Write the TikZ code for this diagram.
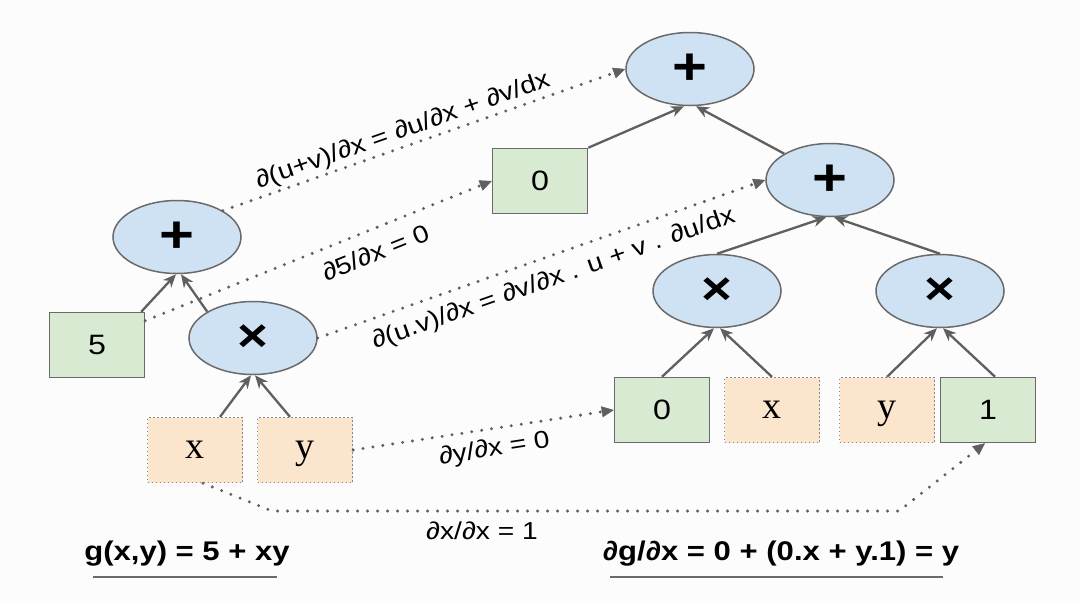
\documentclass[tikz,border=0pt]{standalone}
\usepackage{fontspec}
\setmainfont{Liberation Sans}[FakeStretch=1.15]
\newfontfamily\serifxy{Liberation Serif}
\usetikzlibrary{shapes.geometric,arrows.meta,calc}
\definecolor{opblue}{HTML}{CFE2F3}
\definecolor{cgreen}{HTML}{D9EAD3}
\definecolor{vorange}{HTML}{FCE5CD}
\definecolor{edgegray}{HTML}{6A6A6A}
\definecolor{arrgray}{HTML}{5F5F5F}
\definecolor{bgc}{HTML}{FCFCFC}
\begin{document}
\begin{tikzpicture}[x=1pt,y=-1pt,
 opnode/.style={ellipse, draw=edgegray, line width=1.5pt, fill=opblue, minimum width=128pt, minimum height=73pt, inner sep=0pt, font=\fontsize{46}{46}\selectfont\bfseries},
 plusop/.style={opnode, font=\fontsize{52}{52}\selectfont\bfseries},
 constbox/.style={rectangle, draw=edgegray, line width=1.5pt, fill=cgreen, minimum width=95pt, minimum height=65pt, inner sep=0pt, font=\fontsize{28}{28}\selectfont},
 varbox/.style={rectangle, draw=edgegray!80, line width=1.3pt, dash pattern=on 1.3pt off 2.7pt, fill=vorange, minimum width=95pt, minimum height=65pt, inner sep=0pt, text height=17pt, text depth=0pt, font=\fontsize{38}{38}\selectfont\serifxy},
 flow/.style={draw=arrgray, line width=2.3pt, -{Stealth[length=13pt,width=11pt,inset=4pt]}},
 deriv/.style={draw=arrgray, line width=3.3pt, line cap=round, dash pattern=on 0pt off 10pt, -{Triangle[length=12pt,width=11pt,line width=0.5pt]}},
 lbl/.style={font=\fontsize{24.5}{28}\selectfont, text=black},
 formula/.style={font=\fontsize{27}{30}\selectfont\bfseries, text=black},
 uline/.style={draw=edgegray, line width=1.5pt},
]
\useasboundingbox (0,0) rectangle (1080,603);
\fill[bgc] (0,0) rectangle (1080,603);

% right tree
\node[plusop] (tp) at (690,69) {+};
\node[plusop] (sp) at (830,180) {+};
\node[opnode] (bm1) at (717,291) {×};
\node[opnode] (bm2) at (940,291) {×};
\node[constbox] (b0) at (662,410) {0};
\node[varbox] (bx) at (772,410) {x};
\node[varbox] (by) at (887,410) {y};
\node[constbox] (b1) at (988,410) {1};
\node[constbox] (z0) at (540,181) {0};

% left tree
\node[plusop] (lp) at (177,237) {+};
\node[constbox] (five) at (97,345) {5};
\node[opnode] (lm) at (253,338) {×};
\node[varbox] (xb) at (195,450) {x};
\node[varbox] (yb) at (305,450) {y};

% solid edges
\draw[flow] ($(five.north east)+(-4,0)$) -- ($(lp.south)+(-1,0)$);
\draw[flow] (lm.north west) -- ($(lp.south)+(4,0)$);
\draw[flow] ($(xb.north)+(25,0)$) -- ($(lm.south)+(-2,0)$);
\draw[flow] ($(yb.north)+(-15,0)$) -- ($(lm.south)+(2,0)$);
\draw[flow] (z0.north east) -- ($(tp.south)+(-6,0)$);
\draw[flow] (sp.north west) -- ($(tp.south)+(6,0)$);
\draw[flow] (bm1.north) -- ($(sp.south)+(-4,0)$);
\draw[flow] (bm2.north) -- ($(sp.south)+(4,0)$);
\draw[flow] (b0.north) -- ($(bm1.south)+(-3,0)$);
\draw[flow] (bx.north) -- ($(bm1.south)+(3,0)$);
\draw[flow] (by.north) -- ($(bm2.south)+(-3,0)$);
\draw[flow] ($(b1.north)+(7,0)$) -- ($(bm2.south)+(3,0)$);

% dotted derivative arrows
\draw[deriv] (lp.north east) -- node[lbl, sloped, above, pos=0.46, inner sep=2pt] {∂(u+v)/∂x = ∂u/∂x + ∂v/dx} (tp.west);
\draw[deriv] ($(five.north east)+(0,9)$) -- node[lbl, sloped, below, pos=0.64, inner sep=12pt] {∂5/∂x = 0} (z0.west);
\draw[deriv] (lm.east) -- node[lbl, sloped, below, pos=0.51, inner sep=10pt] {∂(u.v)/∂x = ∂v/∂x . u + v . ∂u/dx} (sp.west);
\draw[deriv] (yb.east) -- node[lbl, sloped, below, pos=0.53, inner sep=8pt] {∂y/∂x = 0} (b0.west);
\coordinate (c1) at (272,511);
\coordinate (c2) at (899,511);
\draw[deriv] ($(xb.south)+(8,0)$) -- (c1) -- (c2) -- ($(b1.south)+(-3,0)$);
\node[lbl, anchor=base] (l5) at (482,539) {∂x/∂x = 1};

% formulas
\node[formula, anchor=base] (g) at (187,560) {g(x,y) = 5 + xy};
\draw[uline] (93,577) -- (277,577);
\node[formula, anchor=base] (dg) at (781,560) {∂g/∂x = 0 + (0.x + y.1) = y};
\draw[uline] (610,577) -- (943,577);
\end{tikzpicture}
\end{document}
